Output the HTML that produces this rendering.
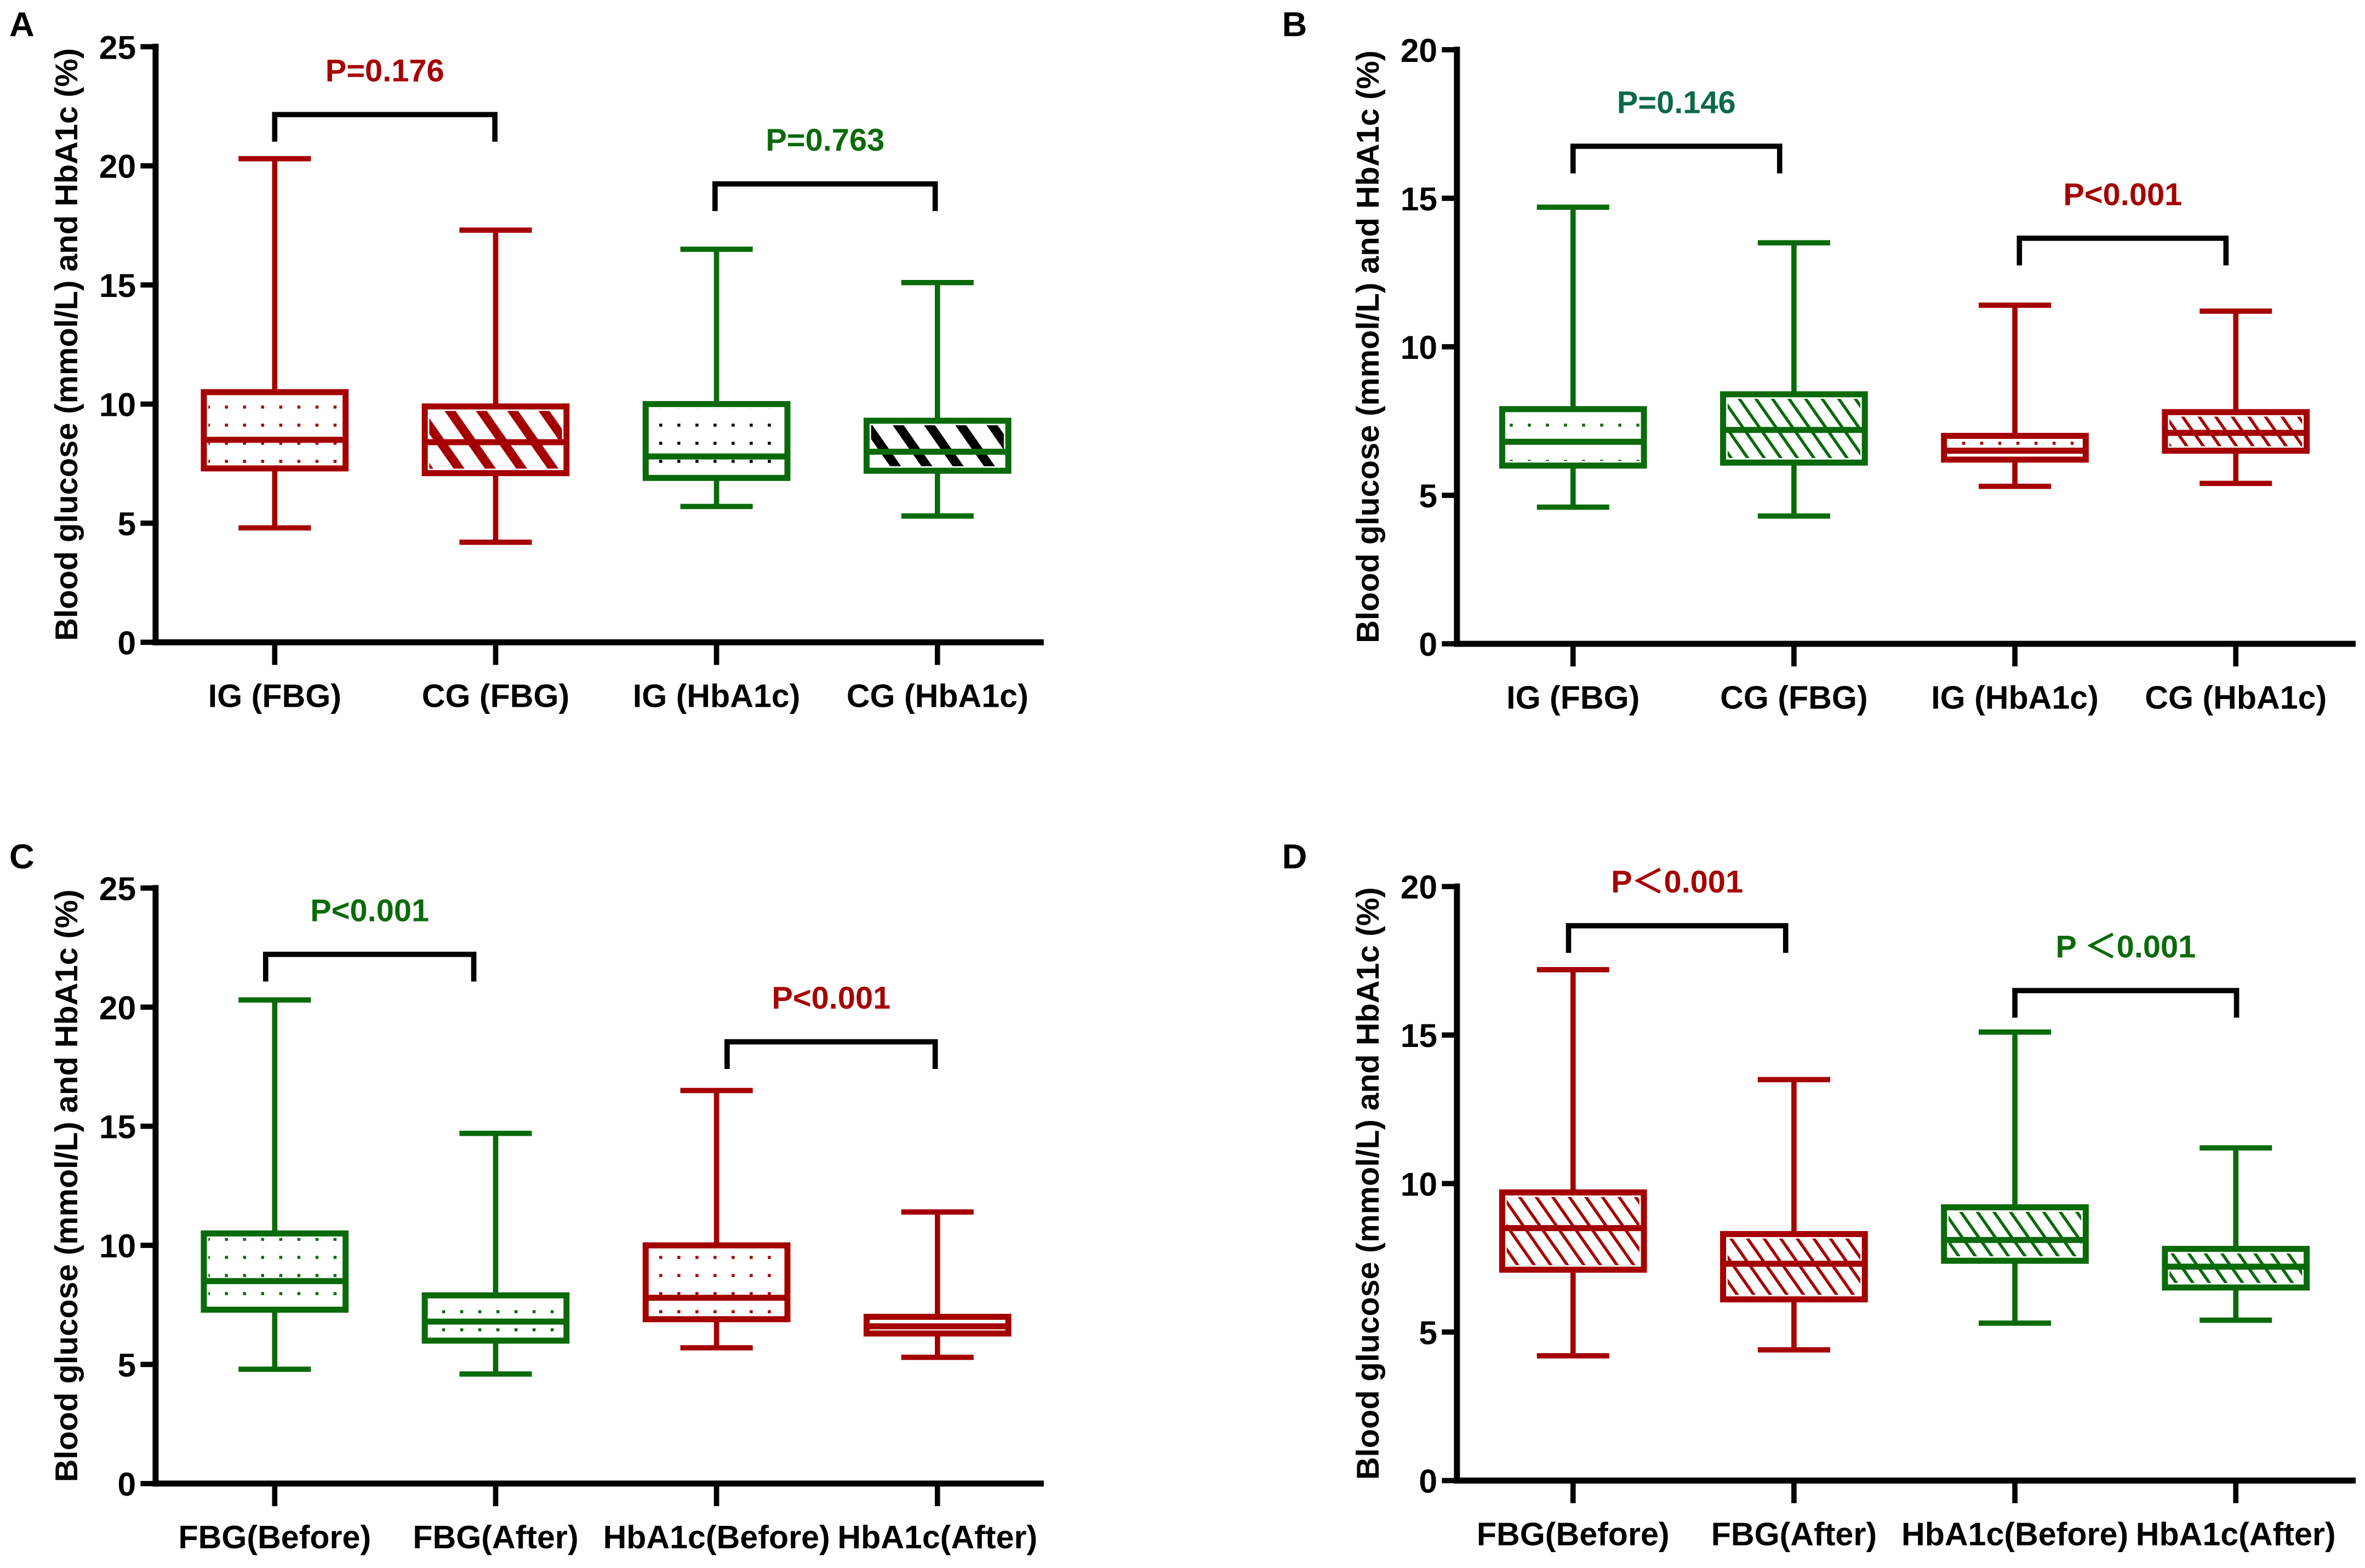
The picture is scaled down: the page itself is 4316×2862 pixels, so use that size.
<!DOCTYPE html>
<html><head><meta charset="utf-8"><style>
html,body{margin:0;padding:0;background:#fff}
svg{display:block}
text{font-family:"Liberation Sans Narrow","Liberation Sans",sans-serif;font-weight:bold}
.yt{font-family:"Liberation Sans",sans-serif;font-weight:bold}
</style></head><body>
<svg id="fig" width="4316" height="2862" viewBox="0 0 1568 1040" xmlns="http://www.w3.org/2000/svg">
<defs>
<pattern id="dotR" width="12" height="12" patternUnits="userSpaceOnUse"><rect x="5" y="5" width="2" height="2" fill="#a50000"/></pattern>
<pattern id="dotG" width="12" height="12" patternUnits="userSpaceOnUse"><rect x="5" y="5" width="2" height="2" fill="#000"/></pattern>
<pattern id="dotG2" width="12" height="12" patternUnits="userSpaceOnUse"><rect x="5" y="5" width="2" height="2" fill="#0a6a0a"/></pattern>
<pattern id="hatchR" width="17" height="17" patternUnits="userSpaceOnUse" patternTransform="rotate(-35)"><rect x="0" y="0" width="6" height="17" fill="#a50000"/></pattern>
<pattern id="hatchK" width="17" height="17" patternUnits="userSpaceOnUse" patternTransform="rotate(-35)"><rect x="0" y="0" width="6" height="17" fill="#000"/></pattern>
<pattern id="fineR" width="9" height="9" patternUnits="userSpaceOnUse" patternTransform="rotate(-35)"><rect x="0" y="0" width="2" height="9" fill="#a50000"/></pattern>
<pattern id="fineG" width="9" height="9" patternUnits="userSpaceOnUse" patternTransform="rotate(-35)"><rect x="0" y="0" width="2" height="9" fill="#0a6a0a"/></pattern>
</defs>
</svg>
<script>
const R='#a50000', G='#0a6a0a';
// Panel A
const catsA=['IG (FBG)','CG (FBG)','IG (HbA1c)','CG (HbA1c)'];
const minA=[4.8,4.2,5.7,5.3], q1A=[7.3,7.1,6.9,7.2], medA=[8.5,8.4,7.8,8.0], q3A=[10.5,9.9,10.0,9.3], maxA=[20.3,17.3,16.5,15.1];
const ticksA=[0,5,10,15,20,25];
// Panel B
const catsB=['IG (FBG)','CG (FBG)','IG (HbA1c)','CG (HbA1c)'];
const minB=[4.6,4.3,5.3,5.4], q1B=[6.0,6.1,6.2,6.5], medB=[6.8,7.2,6.5,7.1], q3B=[7.9,8.4,7.0,7.8], maxB=[14.7,13.5,11.4,11.2];
const ticksB=[0,5,10,15,20];
// Panel C
const catsC=['FBG(Before)','FBG(After)','HbA1c(Before)','HbA1c(After)'];
const minC=[4.8,4.6,5.7,5.3], q1C=[7.3,6.0,6.9,6.3], medC=[8.5,6.8,7.8,6.6], q3C=[10.5,7.9,10.0,7.0], maxC=[20.3,14.7,16.5,11.4];
const ticksC=[0,5,10,15,20,25];
// Panel D
const catsD=['FBG(Before)','FBG(After)','HbA1c(Before)','HbA1c(After)'];
const minD=[4.2,4.4,5.3,5.4], q1D=[7.1,6.1,7.4,6.5], medD=[8.5,7.3,8.1,7.2], q3D=[9.7,8.3,9.2,7.8], maxD=[17.2,13.5,15.1,11.2];
const ticksD=[0,5,10,15,20];

const svg=document.getElementById('fig');
const NS='http://www.w3.org/2000/svg';
function mk(tag,at,parent,txt){const e=document.createElementNS(NS,tag);for(const k in at)e.setAttribute(k,at[k]);if(txt!==undefined)e.textContent=txt;(parent||svg).appendChild(e);return e;}

function panel(cfg){
  const g=mk('g',{});
  
  
  const ymax=cfg.ticks[cfg.ticks.length-1];
  const y=v=>cfg.y0-(cfg.y0-cfg.ytop)*v/ymax;
  const x=i=>cfg.x1+i*146.5;
  const lab=mk('text',{x:cfg.lx,y:cfg.ly,'font-size':23,'font-family':'Liberation Sans'},g,cfg.id);
  
  
  const ya=mk('line',{x1:cfg.ax,y1:y(ymax)-2,x2:cfg.ax,y2:cfg.y0+2,stroke:'#000','stroke-width':4},g);
  
  
  const xa=mk('line',{x1:cfg.ax-2,y1:cfg.y0,x2:cfg.xend,y2:cfg.y0,stroke:'#000','stroke-width':4},g);
  
  
  cfg.ticks.forEach(t=>{
    mk('line',{x1:cfg.ax-10,y1:y(t),x2:cfg.ax,y2:y(t),stroke:'#000','stroke-width':3.5},g);
    const tl=mk('text',{x:cfg.ax-13,y:y(t)+8,'font-size':22,'text-anchor':'end'},g,String(t));
    
    
  });
  const at=mk('text',{class:'yt',x:0,y:0,'font-size':21,'text-anchor':'middle',transform:`translate(${cfg.ax-52},${(cfg.y0+y(ymax))/2}) rotate(-90)`},g,'Blood glucose (mmol/L) and HbA1c (%)');
  
  
  for(let i=0;i<4;i++){
    const cx=x(i), c=cfg.colors[i];
    mk('line',{x1:cx,y1:cfg.y0,x2:cx,y2:cfg.y0+15,stroke:'#000','stroke-width':3.5},g);
    const xl=mk('text',{x:cx,y:cfg.y0+43,'font-size':21.5,'text-anchor':'middle','font-family':'Liberation Sans'},g,cfg.cats[i]);
    
    
    const bg=mk('g',{},g);
    
    
    const hw=47, cw=24;
    mk('line',{x1:cx,y1:y(cfg.max[i]),x2:cx,y2:y(cfg.q3[i]),stroke:c,'stroke-width':3.5},bg);
    mk('line',{x1:cx,y1:y(cfg.q1[i]),x2:cx,y2:y(cfg.min[i]),stroke:c,'stroke-width':3.5},bg);
    mk('line',{x1:cx-cw,y1:y(cfg.max[i]),x2:cx+cw,y2:y(cfg.max[i]),stroke:c,'stroke-width':3.5},bg);
    mk('line',{x1:cx-cw,y1:y(cfg.min[i]),x2:cx+cw,y2:y(cfg.min[i]),stroke:c,'stroke-width':3.5},bg);
    mk('rect',{x:cx-hw,y:y(cfg.q3[i]),width:2*hw,height:y(cfg.q1[i])-y(cfg.q3[i]),fill:'#fff'},bg);
    mk('rect',{x:cx-hw+3,y:y(cfg.q3[i])+3,width:2*hw-6,height:Math.max(0,y(cfg.q1[i])-y(cfg.q3[i])-6),fill:'url(#'+cfg.fills[i]+')'},bg);
    mk('rect',{x:cx-hw,y:y(cfg.q3[i]),width:2*hw,height:y(cfg.q1[i])-y(cfg.q3[i]),fill:'none',stroke:c,'stroke-width':4},bg);
    mk('line',{x1:cx-hw,y1:y(cfg.med[i]),x2:cx+hw,y2:y(cfg.med[i]),stroke:c,'stroke-width':4},bg);
  }
  cfg.brackets.forEach(b=>{
    const x1=b.x1, x2=b.x2;
    const br=mk('path',{d:`M${x1},${b.y+18} V${b.y} H${x2} V${b.y+18}`,fill:'none',stroke:'#000','stroke-width':3.5},g);
    
    
    const pt=mk('text',{x:(x1+x2)/2,y:b.y-22,'font-size':21,'text-anchor':'middle',fill:b.c,'font-family':'Liberation Sans'},g,b.t);
    
    
  });
}
panel({id:'A',lx:6,ly:24,ax:103,y0:426,ytop:31,x1:182,xend:692,ticks:ticksA,cats:catsA,min:minA,q1:q1A,med:medA,q3:q3A,max:maxA,
  colors:[R,R,G,G],fills:['dotR','hatchR','dotG','hatchK'],
  brackets:[{x1:182,x2:328,y:76,c:R,t:'P=0.176'},{x1:474,x2:620,y:122,c:G,t:'P=0.763'}]});
panel({id:'B',lx:850,ly:24,ax:966,y0:427,ytop:33,x1:1043,xend:1562,ticks:ticksB,cats:catsB,min:minB,q1:q1B,med:medB,q3:q3B,max:maxB,
  colors:[G,G,R,R],fills:['dotG2','fineG','dotR','fineR'],
  brackets:[{x1:1043,x2:1180,y:97,c:'#0b6a45',t:'P=0.146'},{x1:1339,x2:1476,y:158,c:R,t:'P<0.001'}]});
panel({id:'C',lx:6,ly:576,ax:103,y0:984,ytop:589,x1:182,xend:692,ticks:ticksC,cats:catsC,min:minC,q1:q1C,med:medC,q3:q3C,max:maxC,
  colors:[G,G,R,R],fills:['dotG2','dotG2','dotR','dotR'],
  brackets:[{x1:176,x2:314,y:633,c:G,t:'P<0.001'},{x1:482,x2:620,y:691,c:R,t:'P<0.001'}]});
panel({id:'D',lx:850,ly:576,ax:966,y0:982,ytop:588,x1:1043,xend:1562,ticks:ticksD,cats:catsD,min:minD,q1:q1D,med:medD,q3:q3D,max:maxD,
  colors:[R,R,G,G],fills:['fineR','fineR','fineG','fineG'],
  brackets:[{x1:1040,x2:1184,y:614,c:R,t:'P＜0.001'},{x1:1336,x2:1483,y:657,c:G,t:'P ＜0.001'}]});
</script>
</body></html>
